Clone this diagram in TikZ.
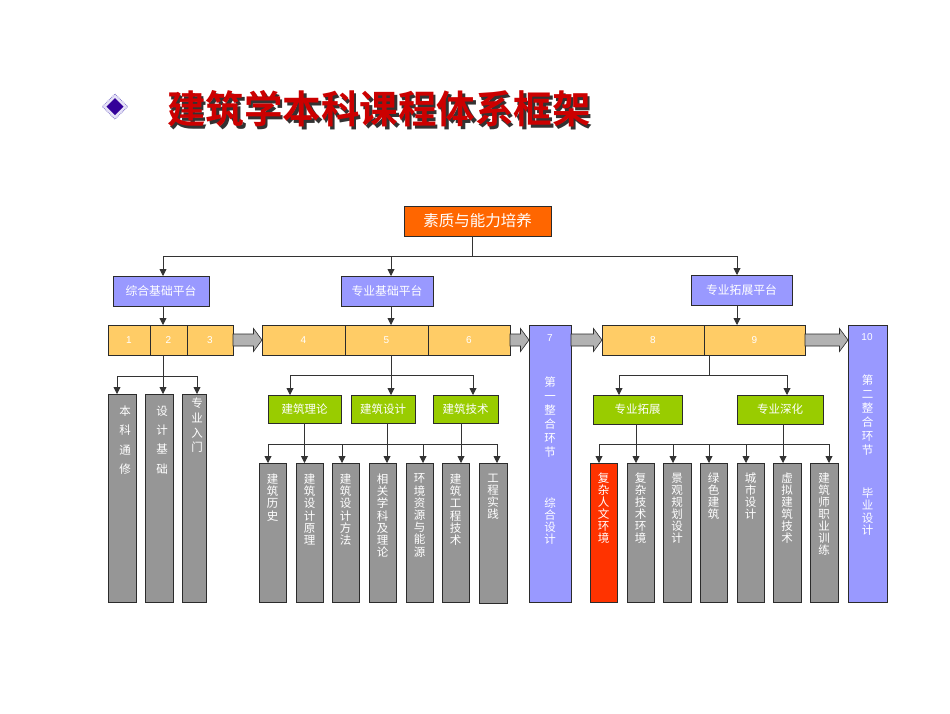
\documentclass[tikz,border=0pt]{standalone}
\usepackage{fontspec}
\setmainfont{Liberation Sans}
\newfontfamily\cjk{Noto Sans CJK SC}
\newfontfamily\cjkbold{Noto Sans CJK SC Bold}
\usetikzlibrary{arrows.meta,calc}
\definecolor{bordercol}{HTML}{2B2B2B}
\definecolor{linecol}{HTML}{333333}
\definecolor{orangebox}{HTML}{FF6600}
\definecolor{platcol}{HTML}{9999FF}
\definecolor{barcol}{HTML}{FFCC66}
\definecolor{greencol}{HTML}{99CC00}
\definecolor{colgray}{HTML}{969696}
\definecolor{colred}{HTML}{FF3300}
\definecolor{blkgray}{HTML}{B2B2B2}
\definecolor{titlered}{HTML}{CC0000}
\definecolor{titleshade}{HTML}{333333}
\definecolor{diamin}{HTML}{330099}
\definecolor{diamout}{HTML}{E6E2F7}
\definecolor{diamedge}{HTML}{8A80D0}

\newcommand\colbox[6]{\node[bx, fill=#6, minimum width={(#3)-(#2)}, minimum height={(#5)-(#4)}] (#1) at ({((#2)+(#3))/2},{((#4)+(#5))/2}) {};}
\newcommand\vtext[5]{\node[vtxt, font=\cjk\fontsize{11.5}{#4}\selectfont, anchor=north] (#1) at (#2,{#3-5.3}) {#5};}
\newcommand\blkarr[2]{\path[blockarrow] let \p1=(#1), \p2=(#2) in (\x1,\y1+6pt) -- (\x2-8.5pt,\y1+6pt) -- (\x2-8.5pt,\y1+11.5pt) -- (\x2,\y1) -- (\x2-8.5pt,\y1-11.5pt) -- (\x2-8.5pt,\y1-6pt) -- (\x1,\y1-6pt) -- cycle;}
\newcommand\shadowtext[1]{\makebox[0pt][l]{\hspace*{2.5pt}\raisebox{-2.5pt}{\textcolor{titleshade}{#1}}}\textcolor{titlered}{#1}}

\begin{document}
\begin{tikzpicture}[x=1pt,y=-1pt,
  bx/.style={draw=bordercol, line width=0.8pt, inner sep=0pt, outer sep=0pt, text=white},
  plat/.style={bx, fill=platcol, minimum height=30pt, font=\cjk\fontsize{11.8}{13}\selectfont},
  bar/.style={bx, fill=barcol, minimum height=30pt, font=\fontsize{10}{12}\selectfont},
  grn/.style={bx, fill=greencol, minimum height=28pt, font=\cjk\fontsize{11.5}{13}\selectfont},
  numtxt/.style={inner sep=0pt, text=white, font=\fontsize{10}{12}\selectfont},
  vtxt/.style={inner sep=0pt, text=white, align=center},
  conn/.style={draw=linecol, line width=0.9pt},
  arr/.style={conn, -{Triangle[width=7pt,length=7pt]}},
  blockarrow/.style={fill=blkgray, draw=bordercol, line width=0.6pt}]
\useasboundingbox (0,0) rectangle (950,713);
\fill[white] (0,0) rectangle (950,713);

% title
\fill[diamout] (115,94) -- (127.7,106.6) -- (115,119.2) -- (102.3,106.6) -- cycle;
\draw[diamedge, densely dotted, line width=0.8pt] (115,94) -- (127.7,106.6) -- (115,119.2) -- (102.3,106.6) -- cycle;
\fill[diamin] (115,98) -- (123.6,106.6) -- (115,115.2) -- (106.4,106.6) -- cycle;
\node[anchor=west, inner sep=0pt, font=\cjkbold\fontsize{38.5}{40}\selectfont] (title) at (167,110) {\shadowtext{建筑学本科课程体系框架}};

% top box and platforms
\node[bx, fill=orangebox, minimum width=147pt, minimum height=30pt, font=\cjk\fontsize{15.5}{17}\selectfont] (top) at (477.5,221) {素质与能力培养};
\node[plat, minimum width=96pt] (p1) at (161,291) {综合基础平台};
\node[plat, minimum width=92pt] (p2) at (387,291) {专业基础平台};
\node[plat, minimum width=101pt] (p3) at (741.5,290) {专业拓展平台};

\coordinate (jT) at (472,256);
\draw[conn] (top.south -| jT) -- (jT);
\draw[arr] (jT) -| ([xshift=2pt]p1.north);
\draw[arr] (jT) -| ([xshift=4pt]p2.north);
\draw[arr] (jT) -| ([xshift=-4.5pt]p3.north);

% number bars
\node[bar, minimum width=42pt] (n1) at (129,340) {1};
\node[bar, minimum width=37pt] (n2) at (168.5,340) {2};
\node[bar, minimum width=46pt] (n3) at (210,340) {3};
\node[bar, minimum width=83pt] (n4) at (303.5,340) {4};
\node[bar, minimum width=83pt] (n5) at (386.5,340) {5};
\node[bar, minimum width=82pt] (n6) at (469,340) {6};
\node[bar, minimum width=102pt] (n8) at (653,340) {8};
\node[bar, minimum width=101pt] (n9) at (754.5,340) {9};
\node[bx, fill=platcol, minimum width=42pt, minimum height=277pt] (n7) at (550,463.5) {};
\node[bx, fill=platcol, minimum width=39pt, minimum height=277pt] (n10) at (867.5,463.5) {};
\node[numtxt] (n7t) at (550,338) {7};
\node[numtxt] (n10t) at (867,337) {10};
\vtext{n7a}{550}{382}{14}{第\\一\\整\\合\\环\\节}
\vtext{n7b}{550}{502.5}{12}{综\\合\\设\\计}
\vtext{n10a}{867.5}{380}{14}{第\\二\\整\\合\\环\\节}
\vtext{n10b}{867.5}{493}{12.3}{毕\\业\\设\\计}

\draw[arr] ([xshift=2pt]p1.south) -- ([xshift=2pt]p1.south |- n2.north);
\draw[arr] ([xshift=4pt]p2.south) -- ([xshift=4pt]p2.south |- n5.north);
\draw[arr] ([xshift=-4.5pt]p3.south) -- ([xshift=-4.5pt]p3.south |- n9.north);

\blkarr{n3.east}{n4.west}
\blkarr{n6.east}{n7.west |- n6.east}
\blkarr{n7.east |- n8.west}{n8.west}
\blkarr{n9.east}{n10.west |- n9.east}

% left columns
\colbox{c1}{108}{136}{394}{602}{colgray}
\colbox{c2}{145}{173}{394}{602}{colgray}
\colbox{c3}{182}{206}{394}{602}{colgray}
\vtext{c1t}{125}{410.7}{19.4}{本\\科\\通\\修}
\vtext{c2t}{162}{410.7}{19.4}{设\\计\\基\\础}
\vtext{c3t}{197}{403}{14.8}{专\\业\\入\\门}
\coordinate (jL) at (163,376);
\draw[conn] (n2.south -| jL) -- (jL);
\draw[arr] (jL) -| ([xshift=-5pt]c1.north);
\draw[arr] (jL) -| ([xshift=4pt]c2.north);
\draw[arr] (jL) -| ([xshift=3pt]c3.north);

% middle
\node[grn, minimum width=73pt] (g1) at (304.5,409) {建筑理论};
\node[grn, minimum width=64pt] (g2) at (383,409) {建筑设计};
\node[grn, minimum width=65pt] (g3) at (465.5,409) {建筑技术};
\coordinate (jM) at (391,375);
\draw[conn] (n5.south -| jM) -- (jM);
\draw[arr] (jM) -| ([xshift=-14.5pt]g1.north);
\draw[arr] (jM) -- (jM |- g2.north);
\draw[arr] (jM) -| ([xshift=7.5pt]g3.north);

\colbox{d1}{259}{286}{463}{602}{colgray}
\colbox{d2}{296}{323}{463}{602}{colgray}
\colbox{d3}{332}{359}{463}{602}{colgray}
\colbox{d4}{369}{396}{463}{602}{colgray}
\colbox{d5}{406}{433}{463}{602}{colgray}
\colbox{d6}{442}{469}{463}{602}{colgray}
\colbox{d7}{479}{507}{463}{603}{colgray}
\vtext{d1t}{272.5}{479}{12.2}{建\\筑\\历\\史}
\vtext{d2t}{309.5}{479}{12.2}{建\\筑\\设\\计\\原\\理}
\vtext{d3t}{345.5}{479}{12.2}{建\\筑\\设\\计\\方\\法}
\vtext{d4t}{382.5}{479}{12.2}{相\\关\\学\\科\\及\\理\\论}
\vtext{d5t}{419.5}{479}{12.2}{环\\境\\资\\源\\与\\能\\源}
\vtext{d6t}{455.5}{479}{12.2}{建\\筑\\工\\程\\技\\术}
\vtext{d7t}{493}{479}{12.2}{工\\程\\实\\践}
\coordinate (bM) at (0,444);
\draw[conn] ([xshift=-4.5pt]d1.north |- bM) -- ([xshift=4pt]d7.north |- bM);
\draw[arr] (g1.south) -- (g1.south |- d2.north);
\draw[arr] ([xshift=4pt]g2.south) -- ([xshift=4pt]g2.south |- d4.north);
\draw[arr] ([xshift=-4.5pt]g3.south) -- ([xshift=-4.5pt]g3.south |- d6.north);
\draw[arr] ([xshift=-4.5pt]d1.north |- bM) -- ([xshift=-4.5pt]d1.north);
\draw[arr] ([xshift=-3.5pt]d3.north |- bM) -- ([xshift=-3.5pt]d3.north);
\draw[arr] ([xshift=3.5pt]d5.north |- bM) -- ([xshift=3.5pt]d5.north);
\draw[arr] ([xshift=4pt]d7.north |- bM) -- ([xshift=4pt]d7.north);

% right
\node[grn, minimum width=89pt, minimum height=29pt] (h1) at (637.5,409.5) {专业拓展};
\node[grn, minimum width=86pt, minimum height=29pt] (h2) at (780,409.5) {专业深化};
\coordinate (jR) at (709,375);
\draw[conn] (n9.south -| jR) -- (jR);
\draw[arr] (jR) -| ([xshift=-18.5pt]h1.north);
\draw[arr] (jR) -| ([xshift=7pt]h2.north);

\colbox{e1}{590}{617}{463}{602}{colred}
\colbox{e2}{627}{654}{463}{602}{colgray}
\colbox{e3}{663}{691}{463}{602}{colgray}
\colbox{e4}{700}{727}{463}{602}{colgray}
\colbox{e5}{737}{764}{463}{602}{colgray}
\colbox{e6}{773}{801}{463}{602}{colgray}
\colbox{e7}{810}{838}{463}{602}{colgray}
\vtext{e1t}{603.5}{478}{12}{复\\杂\\人\\文\\环\\境}
\vtext{e2t}{640.5}{478}{12}{复\\杂\\技\\术\\环\\境}
\vtext{e3t}{677}{478}{12}{景\\观\\规\\划\\设\\计}
\vtext{e4t}{713.5}{478}{12}{绿\\色\\建\\筑}
\vtext{e5t}{750.5}{478}{12}{城\\市\\设\\计}
\vtext{e6t}{787}{478}{12}{虚\\拟\\建\\筑\\技\\术}
\vtext{e7t}{824}{478}{12}{建\\筑\\师\\职\\业\\训\\练}
\coordinate (bR) at (0,444);
\draw[conn] ([xshift=-4.5pt]e1.north |- bR) -- ([xshift=5pt]e7.north |- bR);
\draw[arr] ([xshift=-1.5pt]h1.south) -- ([xshift=-1.5pt]h1.south |- e2.north);
\draw[arr] ([xshift=3pt]h2.south) -- ([xshift=3pt]h2.south |- e6.north);
\draw[arr] ([xshift=-4.5pt]e1.north |- bR) -- ([xshift=-4.5pt]e1.north);
\draw[arr] ([xshift=-4pt]e3.north |- bR) -- ([xshift=-4pt]e3.north);
\draw[arr] ([xshift=-4.5pt]e4.north |- bR) -- ([xshift=-4.5pt]e4.north);
\draw[arr] ([xshift=-4.5pt]e5.north |- bR) -- ([xshift=-4.5pt]e5.north);
\draw[arr] ([xshift=5pt]e7.north |- bR) -- ([xshift=5pt]e7.north);
\end{tikzpicture}
\end{document}
